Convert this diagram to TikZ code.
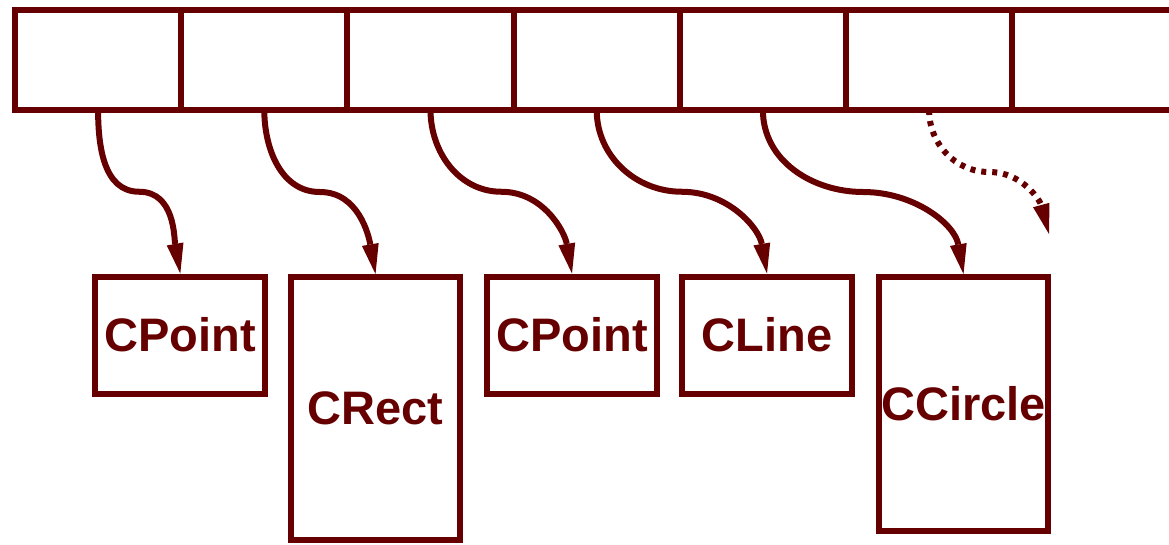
\documentclass[tikz,border=0pt]{standalone}
\usepackage{fontspec}
\setmainfont{Liberation Sans}
\usetikzlibrary{arrows.meta,positioning,calc}
\definecolor{ptrred}{HTML}{660000}

\begin{document}
\begin{tikzpicture}[
  x=1pt, y=1pt,
  node distance=0pt,
  cell/.style={draw=ptrred, line width=6pt, minimum width=166.2pt, minimum height=100pt, inner sep=0pt, outer sep=0pt},
  obj/.style={draw=ptrred, line width=6pt, minimum width=170pt, minimum height=117pt, inner sep=0pt, text=ptrred, font=\fontsize{47}{56}\selectfont\bfseries},
  tall/.style={obj, minimum width=169pt, minimum height=263pt},
  ptr/.style={ptrred, line width=6pt, -{Triangle[length=30pt, width=17pt, line width=0pt]}},
  nullptr/.style={ptr, dash pattern=on 5pt off 6pt}
]
\useasboundingbox (0,0) rectangle (1169,-544);

% array of pointers
\node[cell] (c1) at (98.1,-60) {};
\node[cell, right=of c1] (c2) {};
\node[cell, right=of c2] (c3) {};
\node[cell, right=of c3] (c4) {};
\node[cell, right=of c4] (c5) {};
\node[cell, right=of c5] (c6) {};
\node[cell, right=of c6] (c7) {};

% objects pointed to
\node[obj] (pt1) at (180.3,-335) {CPoint};
\node[tall] (rect) at (375.5,-408.5) {CRect};
\node[obj] (pt2) at (572,-335) {CPoint};
\node[obj] (line) at (767,-335) {CLine};
\node[tall, minimum height=254pt] (circle) at (963.5,-404) {CCircle};
\coordinate (open) at (1049,-234);

\draw[ptr] (c1.south) to[out=-90,in=180] ($(c1.south)!0.5!(pt1.north)$) to[out=0,in=100] (pt1.north);
\draw[ptr] (c2.south) to[out=-90,in=180] ($(c2.south)!0.5!(rect.north)$) to[out=0,in=100] (rect.north);
\draw[ptr] (c3.south) to[out=-90,in=180] ($(c3.south)!0.5!(pt2.north)$) to[out=0,in=100] (pt2.north);
\draw[ptr] (c4.south) to[out=-90,in=180] ($(c4.south)!0.5!(line.north)$) to[out=0,in=100] (line.north);
\draw[ptr] (c5.south) to[out=-90,in=180] ($(c5.south)!0.5!(circle.north)$) to[out=0,in=100] (circle.north);
\draw[nullptr] (c6.south) to[out=-90,in=180] ($(c6.south)!0.5!(open)$) to[out=0,in=105] (open);
\end{tikzpicture}
\end{document}
